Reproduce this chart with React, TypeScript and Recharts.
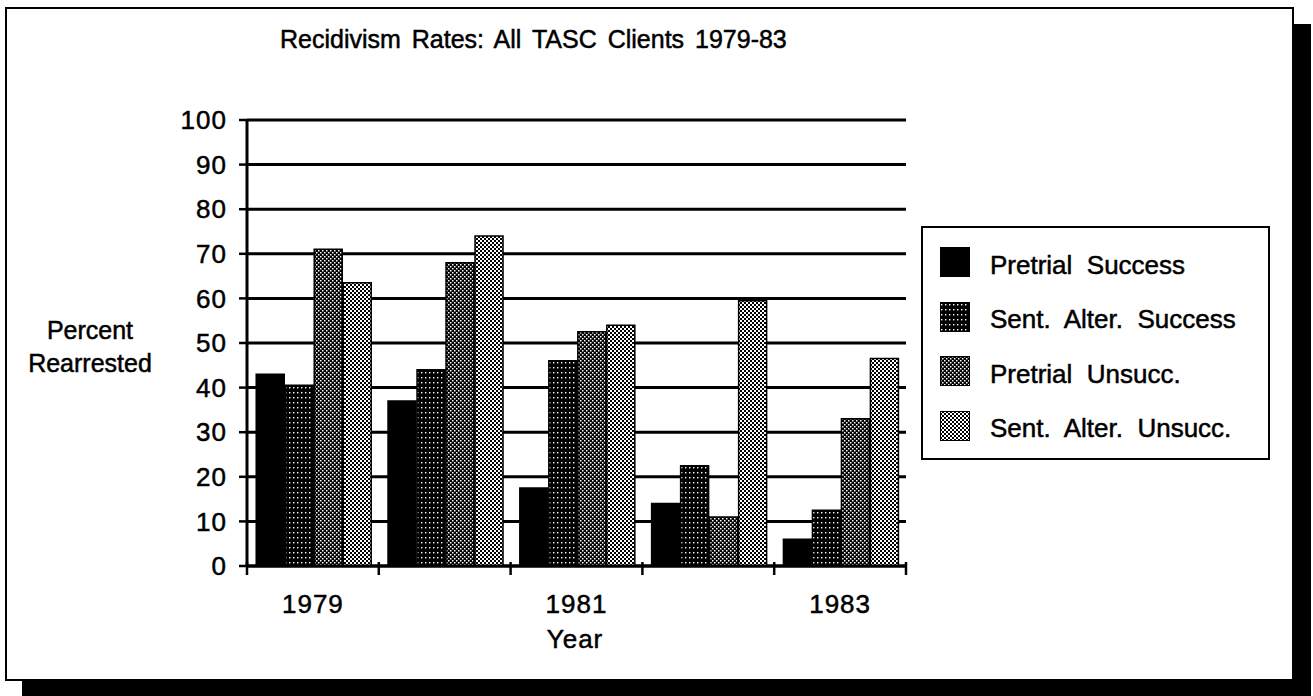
import React from 'react';
import { BarChart, Bar, XAxis, YAxis, CartesianGrid } from 'recharts';

const years = ['1979', '1980', '1981', '1982', '1983'];
const labeledYears = ['1979', '1981', '1983'];
const pretrialSuccess = [43, 37, 17.5, 14, 6];
const sentAlterSuccess = [40.5, 44, 46, 22.5, 12.5];
const pretrialUnsucc = [71, 68, 52.5, 11, 33];
const sentAlterUnsucc = [63.5, 74, 54, 59.5, 46.5];
const yTicks = [0, 10, 20, 30, 40, 50, 60, 70, 80, 90, 100];

const series = [
  { key: 'pretrialSuccess', name: 'Pretrial  Success', fill: '#000' },
  { key: 'sentAlterSuccess', name: 'Sent.  Alter.  Success', fill: 'url(#dots)' },
  { key: 'pretrialUnsucc', name: 'Pretrial  Unsucc.', fill: 'url(#darkCheck)' },
  { key: 'sentAlterUnsucc', name: 'Sent.  Alter.  Unsucc.', fill: 'url(#lightCheck)' },
];

const data = years.map((year, i) => ({
  year,
  pretrialSuccess: pretrialSuccess[i],
  sentAlterSuccess: sentAlterSuccess[i],
  pretrialUnsucc: pretrialUnsucc[i],
  sentAlterUnsucc: sentAlterUnsucc[i],
}));

const FONT = '"Liberation Sans", Arial, Helvetica, sans-serif';
const PLOT_LEFT = 247;
const PLOT_RIGHT = 906;
const AXIS_Y = 566;
const HALF_BAND = (PLOT_RIGHT - PLOT_LEFT) / years.length / 2;
// photocopied text looks a little heavier than a plain regular face
const heavy: React.CSSProperties = { WebkitTextStroke: '0.5px #000', color: '#000' };

const YearTick = (props: any) => {
  const { x, payload, index } = props;
  const mark = (mx: number) => (
    <line x1={mx} x2={mx} y1={AXIS_Y - 4} y2={AXIS_Y + 9} stroke="#000" strokeWidth={2.5} />
  );
  return (
    <g>
      {mark(x - HALF_BAND)}
      {index === years.length - 1 && mark(x + HALF_BAND)}
      {labeledYears.includes(payload.value) && (
        <text x={x} y={613} textAnchor="middle" fontSize={26} fontFamily={FONT} fill="#000" stroke="#000" strokeWidth={0.5} letterSpacing={1}>
          {payload.value}
        </text>
      )}
    </g>
  );
};

export default function App() {
  return (
    <div style={{ position: 'absolute', left: 0, top: 0, width: 1313, height: 696, background: '#fff', fontFamily: FONT }}>
      <svg width={0} height={0} style={{ position: 'absolute' }}>
        <defs>
          <pattern id="dots" width={4} height={5} patternUnits="userSpaceOnUse">
            <rect width={4} height={5} fill="#000" />
            <rect x={1} y={2} width={1.4} height={1.4} fill="#fff" />
          </pattern>
          <pattern id="darkCheck" width={4} height={4} patternUnits="userSpaceOnUse">
            <rect width={4} height={4} fill="#000" />
            <rect x={0} y={0} width={1.5} height={1.5} fill="#fff" />
            <rect x={2} y={2} width={1.5} height={1.5} fill="#fff" />
          </pattern>
          <pattern id="lightCheck" width={4} height={4} patternUnits="userSpaceOnUse">
            <rect width={4} height={4} fill="#000" />
            <rect x={0} y={0} width={2} height={2} fill="#fff" />
            <rect x={2} y={2} width={2} height={2} fill="#fff" />
          </pattern>
        </defs>
      </svg>

      {/* shadow and frame */}
      <div style={{ position: 'absolute', left: 22, top: 24, width: 1289, height: 672, background: '#000' }} />
      <div style={{ position: 'absolute', left: 5, top: 7, width: 1289, height: 674, boxSizing: 'border-box', border: '2px solid #000', background: '#fff' }} />

      <div style={{ position: 'absolute', left: 280, top: 25, fontSize: 25, wordSpacing: 4, whiteSpace: 'pre', ...heavy }}>
        {'Recidivism Rates: All TASC Clients 1979-83'}
      </div>

      <div style={{ position: 'absolute', left: 0, top: 0 }}>
        <BarChart
          width={1313}
          height={696}
          data={data}
          margin={{ top: 120, right: 407, bottom: 70, left: 187 }}
          barCategoryGap="7%"
          barGap={1}
        >
          <CartesianGrid vertical={false} stroke="#000" strokeWidth={3} />
          <XAxis
            dataKey="year"
            height={60}
            axisLine={{ stroke: '#000', strokeWidth: 3 }}
            tickLine={false}
            interval={0}
            tick={<YearTick />}
          />
          <YAxis
            width={60}
            domain={[0, 100]}
            ticks={yTicks}
            interval={0}
            axisLine={{ stroke: '#000', strokeWidth: 3 }}
            tickLine={{ stroke: '#000', strokeWidth: 2.5 }}
            tickSize={8}
            tickMargin={12}
            tick={{ fill: '#000', stroke: '#000', strokeWidth: 0.5, fontSize: 26, fontFamily: FONT, letterSpacing: 1 }}
          />
          {series.map((s) => (
            <Bar key={s.key} dataKey={s.key} fill={s.fill} stroke="#000" strokeWidth={1.5} isAnimationActive={false} />
          ))}
        </BarChart>
      </div>

      <div style={{ position: 'absolute', left: 58, top: 314, width: 64, fontSize: 25, lineHeight: '33px', textAlign: 'center', ...heavy }}>
        <div style={{ marginLeft: -40, marginRight: -40 }}>Percent</div>
        <div style={{ marginLeft: -40, marginRight: -40 }}>Rearrested</div>
      </div>

      <div style={{ position: 'absolute', left: 575, top: 624, transform: 'translateX(-50%)', fontSize: 26, letterSpacing: 1, ...heavy }}>Year</div>

      <div style={{ position: 'absolute', left: 921, top: 226, width: 349, height: 234, boxSizing: 'border-box', border: '2px solid #000', background: '#fff' }}>
        {series.map((s, i) => (
          <div key={s.key} style={{ position: 'absolute', left: 17, top: 19 + i * 54.5, height: 30, display: 'flex', alignItems: 'center' }}>
            <svg width={30} height={30} style={{ display: 'block' }}>
              <rect x={0.5} y={0.5} width={29} height={29} fill={s.fill} stroke="#000" />
            </svg>
            <span style={{ marginLeft: 20, marginTop: 6, fontSize: 26, whiteSpace: 'pre', ...heavy }}>{s.name}</span>
          </div>
        ))}
      </div>
    </div>
  );
}
